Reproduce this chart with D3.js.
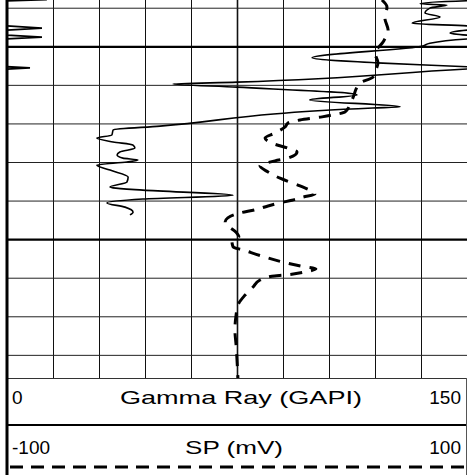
<!DOCTYPE html>
<html><head><meta charset="utf-8">
<script src="https://cdn.jsdelivr.net/npm/d3@7"></script>
<style>html,body{margin:0;padding:0;background:#fff;} svg{display:block}</style>
</head><body>
<svg id="c" width="467" height="475"></svg>
<script>
// ---- data ----
const grDepth = [987.9,988.2,989.0,989.3,990.1,991.4,992.4,994.0,994.7,995.3,995.8,996.6,997.1,997.6,998.1,999.2,999.9,1003.0,1004.3,1005.3,1005.6,1005.9,1009.3,1009.8,1010.6,1012.6,1013.9,1015.7,1016.0,1020.7,1021.7,1023.0,1023.8,1024.8,1025.6,1026.4,1027.4,1028.2,1029.0,1029.5,1030.0,1030.8,1032.1,1033.9,1035.2,1036.5,1036.7,1037.3,1038.6,1039.6,1040.6,1041.7,1043.0,1043.7];
const grValue = [163,150,134.7,143.5,137.9,136.3,141.2,132.1,150,161.4,150,144.5,150,161.4,150,137.9,135.6,99.5,120.7,150,157.5,150,75,54.1,75,114.1,98.7,128.2,119.3,49.9,34.6,34.2,29.3,34.6,41.1,41.7,36.8,35.9,37.8,42.7,39.1,29.3,33.6,39.5,39.1,33.6,34.6,44.3,73.7,44.3,32.6,38.5,41.1,40.1];
const spDepth = [988.0,989.8,992.7,995.8,998.9,1001.7,1004.3,1006.1,1008.0,1009.5,1013.9,1017.0,1017.8,1018.3,1019.1,1019.9,1020.9,1022.5,1023.8,1025.1,1026.6,1027.4,1029.0,1029.7,1031.0,1032.6,1034.2,1036.2,1038.3,1039.1,1039.9,1040.6,1041.4,1042.4,1043.2,1044.5,1045.6,1046.6,1048.2,1049.4,1050.5,1052.0,1052.8,1054.4,1055.9,1057.2,1057.7,1058.5,1059.3,1059.6,1060.6,1062.4,1064.5,1067.1,1069.7,1073.6,1077.4,1086.0];
const spValue = [63.0,65.2,64.3,65.7,63.5,60.0,61.3,60.4,59.1,53.5,50.0,47.0,41.7,37.0,27.4,22.2,20.9,16.5,12.2,15.2,23.0,26.1,22.2,16.5,10.0,13.5,18.7,27.4,33.9,28.7,23.9,18.7,13.5,7.8,1.3,-4.0,-5.2,-3.9,-0.4,0.8,-2.2,-1.7,2.6,10.9,19.6,29.6,34.3,29.6,20.9,15.2,10.0,7.0,3.5,0.4,-0.4,-0.9,-0.4,0.4];
const gridDepths = [990,1000,1010,1020,1030,1040,1050,1060,1070,1080];
const majorDepths = [1000,1050];
const grTicks = [0,15,30,45,60,75,90,105,120,135,150];
const grLabels = ["0","Gamma Ray (GAPI)","150"];
const spLabels = ["-100","SP (mV)","100"];
const depthDomain = [988,1086];
const grDomain = [0,150];
const spDomain = [-100,100];

// ---- layout ----
const pLeft=7, pRight=467, pTop=0, pBottom=378;
const svg = d3.select('#c');
const y = d3.scaleLinear().domain(depthDomain).range([pTop,pBottom]);
const xGR = d3.scaleLinear().domain(grDomain).range([pLeft,pRight]);
const xSP = d3.scaleLinear().domain(spDomain).range([pLeft,pRight]);

svg.append('rect').attr('width',467).attr('height',475).attr('fill','#fff');
svg.append('clipPath').attr('id','clip').append('rect')
  .attr('x',pLeft).attr('y',pTop).attr('width',pRight-pLeft).attr('height',pBottom-pTop);

// vertical grid
const gx = svg.append('g').attr('transform',`translate(0,${pTop})`)
  .call(d3.axisTop(xGR).tickValues(grTicks).tickSize(-(pBottom-pTop)).tickFormat(''));
gx.select('.domain').remove();
gx.selectAll('line').attr('stroke','#111').attr('stroke-width',d=>d===75?1.6:1);
// horizontal grid
const gy = svg.append('g').attr('transform',`translate(${pLeft},0)`)
  .call(d3.axisLeft(y).tickValues(gridDepths).tickSize(-(pRight-pLeft)).tickFormat(''));
gy.select('.domain').remove();
gy.selectAll('line').attr('stroke',d=>majorDepths.includes(d)?'#000':'#222')
  .attr('stroke-width',d=>majorDepths.includes(d)?2.2:1);

const plot = svg.append('g').attr('clip-path','url(#clip)');
const grData = grDepth.map((d,i)=>({d, v:grValue[i]}));
const spData = spDepth.map((d,i)=>({d, v:spValue[i]}));

plot.append('path').datum(spData)
  .attr('d', d3.line().x(p=>xSP(p.v)).y(p=>y(p.d)).curve(d3.curveMonotoneY))
  .attr('fill','none').attr('stroke','#000').attr('stroke-width',3)
  .attr('stroke-dasharray','12,9');
plot.append('path').datum(grData)
  .attr('d', d3.line().x(p=>xGR(p.v)).y(p=>y(p.d)).curve(d3.curveMonotoneY))
  .attr('fill','none').attr('stroke','#000').attr('stroke-width',1.6).attr('stroke-linejoin','round');
// wrapped (backup) portion of gamma ray
plot.append('path').datum(grData)
  .attr('d', d3.line().x(p=>xGR(p.v-grDomain[1])).y(p=>y(p.d)))
  .attr('fill','none').attr('stroke','#000').attr('stroke-width',1.8);

// ---- header ----
const hdr = svg.append('g');
hdr.append('line').attr('x1',pLeft).attr('x2',pRight).attr('y1',pBottom+0.5).attr('y2',pBottom+0.5).attr('stroke','#333');
hdr.append('line').attr('x1',pLeft).attr('x2',pRight).attr('y1',425).attr('y2',425).attr('stroke','#000').attr('stroke-width',2);
hdr.append('line').attr('x1',466.5).attr('x2',466.5).attr('y1',pBottom).attr('y2',475).attr('stroke','#555');
hdr.append('line').attr('x1',10).attr('x2',464).attr('y1',467).attr('y2',467)
  .attr('stroke','#000').attr('stroke-width',3).attr('stroke-dasharray','13,8');

function labels(arr, yb, titleX, titleLen){
  const anchors=['start','middle','end'];
  const xs=[12, titleX, 461];
  arr.forEach((t,i)=>{
    const el = hdr.append('text').attr('x',xs[i]).attr('y',yb).attr('text-anchor',anchors[i])
      .attr('font-family','Liberation Sans, Arial, sans-serif').attr('font-size',19)
      .attr('fill','#000').text(t);
    if(i===1) el.attr('textLength',titleLen).attr('lengthAdjust','spacingAndGlyphs');
  });
}
labels(grLabels, 404, 241, 242);
labels(spLabels, 454, 234, 98);

// left border
svg.append('rect').attr('x',5.5).attr('y',0).attr('width',3).attr('height',475).attr('fill','#000');
</script>
</body></html>
